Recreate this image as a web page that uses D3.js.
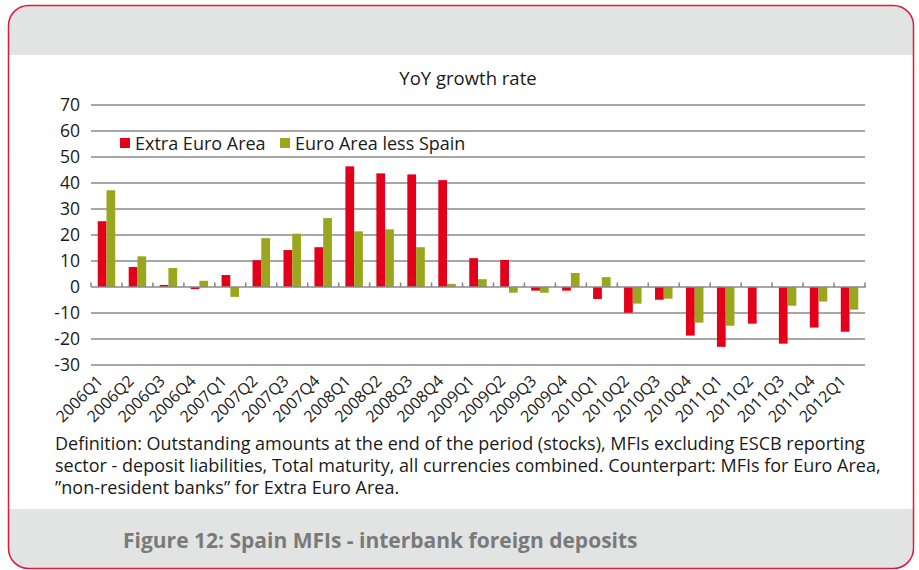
<!DOCTYPE html>
<html><head><meta charset="utf-8">
<script src="https://cdn.jsdelivr.net/npm/d3@7"></script>
<style>body{margin:0;background:#fff}svg{display:block}</style>
</head><body><svg id="c" width="919" height="570"></svg>
<script>
const categories = ["2006Q1","2006Q2","2006Q3","2006Q4","2007Q1","2007Q2","2007Q3","2007Q4","2008Q1","2008Q2","2008Q3","2008Q4","2009Q1","2009Q2","2009Q3","2009Q4","2010Q1","2010Q2","2010Q3","2010Q4","2011Q1","2011Q2","2011Q3","2011Q4","2012Q1"];
const extraEuroArea = [25.3,7.7,0.8,-0.8,4.6,10.3,14.2,15.3,46.4,43.7,43.3,41.1,11.1,10.4,-1.4,-1.4,-4.6,-9.9,-4.9,-18.7,-23.0,-14.1,-21.8,-15.6,-17.2];
const euroAreaLessSpain = [37.2,11.8,7.3,2.4,-3.8,18.8,20.5,26.5,21.4,22.2,15.3,1.2,3.0,-2.2,-2.2,5.4,3.8,-6.4,-4.5,-13.7,-14.9,0,-7.2,-5.6,-8.7];
const seriesNames = ["Extra Euro Area","Euro Area less Spain"];
const yTicks = [-30,-20,-10,0,10,20,30,40,50,60,70];
const chartTitle = "YoY growth rate";
const definitionLines = [
 "Definition: Outstanding amounts at the end of the period (stocks), MFIs excluding ESCB reporting",
 "sector - deposit liabilities, Total maturity, all currencies combined. Counterpart: MFIs for Euro Area,",
 "\u201dnon-resident banks\u201d for Extra Euro Area."
];
const figureCaption = "Figure 12: Spain MFIs - interbank foreign deposits";

const colors = ["#E2001A","#9AA71E"];
const font = "'Open Sans', sans-serif";
const svg = d3.select("#c");

// frame
const fx=8.5, fy=5.5, fw=905, fh=563, r=20;
svg.append("clipPath").attr("id","fr").append("rect")
  .attr("x",fx).attr("y",fy).attr("width",fw).attr("height",fh).attr("rx",r);
const g0 = svg.append("g").attr("clip-path","url(#fr)");
g0.append("rect").attr("x",0).attr("y",0).attr("width",919).attr("height",55).attr("fill","#E2E3E3");
g0.append("rect").attr("x",0).attr("y",509).attr("width",919).attr("height",70).attr("fill","#E2E3E3");
svg.append("rect").attr("x",fx).attr("y",fy).attr("width",fw).attr("height",fh).attr("rx",r)
  .attr("fill","none").attr("stroke","#E2183C").attr("stroke-width",1.5);

const x = d3.scaleBand().domain(categories).range([91,865]);
const y = d3.scaleLinear().domain([-30,70]).range([365,105]);
const bw = x.bandwidth();
const groupW = bw*0.565;
const x1 = d3.scaleBand().domain(seriesNames).range([(bw-groupW)/2,(bw+groupW)/2]);

// grid
const yAxis = d3.axisLeft(y).tickValues(yTicks).tickSize(0).tickPadding(11).tickFormat(d=>String(d));
const ga = svg.append("g").attr("transform","translate(91,0)").call(yAxis);
ga.select(".domain").remove();
ga.selectAll("text").attr("font-family",font).attr("font-size",17.5).attr("fill","#1a1a1a");
svg.append("g").selectAll("line").data(yTicks.filter(v=>v!==0)).join("line")
  .attr("x1",91).attr("x2",865).attr("y1",d=>y(d)).attr("y2",d=>y(d))
  .attr("stroke","#8a8a8a").attr("stroke-width",1.6);

// bars
const data = categories.map((c,i)=>({c, v:[extraEuroArea[i],euroAreaLessSpain[i]]}));
const gb = svg.append("g");
seriesNames.forEach((s,si)=>{
  gb.selectAll(null).data(data).join("rect")
    .attr("x",d=>x(d.c)+x1(s)).attr("width",x1.bandwidth())
    .attr("y",d=>y(Math.max(0,d.v[si]))).attr("height",d=>Math.abs(y(d.v[si])-y(0)))
    .attr("fill",colors[si]);
});

// zero axis with ticks
svg.append("line").attr("x1",91).attr("x2",866).attr("y1",y(0)).attr("y2",y(0))
  .attr("stroke","#8a8a8a").attr("stroke-width",1.6);
const bounds = categories.map(c=>x(c)).concat([x.range()[1]]);
svg.append("g").selectAll("line").data(bounds).join("line")
  .attr("x1",d=>d).attr("x2",d=>d).attr("y1",y(0)-4.5).attr("y2",y(0))
  .attr("stroke","#8a8a8a").attr("stroke-width",1.6);

// x labels
svg.append("g").selectAll("text").data(categories).join("text")
  .attr("transform",d=>`translate(${x(d)+bw/2-2.5},${382}) rotate(-45)`)
  .attr("text-anchor","end").attr("font-family",font).attr("font-size",16).attr("fill","#1a1a1a")
  .text(d=>d);

// title
svg.append("text").attr("x",468).attr("y",85).attr("text-anchor","middle")
  .attr("font-family",font).attr("font-size",18.5).attr("fill","#1a1a1a").text(chartTitle);

// legend
const legX = [120,280];
seriesNames.forEach((s,i)=>{
  svg.append("rect").attr("x",legX[i]).attr("y",138).attr("width",10).attr("height",10).attr("fill",colors[i]);
  svg.append("text").attr("x",legX[i]+15).attr("y",149.5).attr("font-family",font).attr("font-size",18)
    .attr("fill","#1a1a1a").text(s);
});

// definition
svg.append("g").selectAll("text").data(definitionLines).join("text")
  .attr("x",55).attr("y",(d,i)=>450+i*22).attr("font-family",font).attr("font-size",18)
  .attr("fill","#1a1a1a").text(d=>d);

// caption
svg.append("text").attr("x",123).attr("y",548).attr("font-family",font).attr("font-size",21)
  .attr("font-weight","bold").attr("fill","#7a7a7a").text(figureCaption);
</script></body></html>
